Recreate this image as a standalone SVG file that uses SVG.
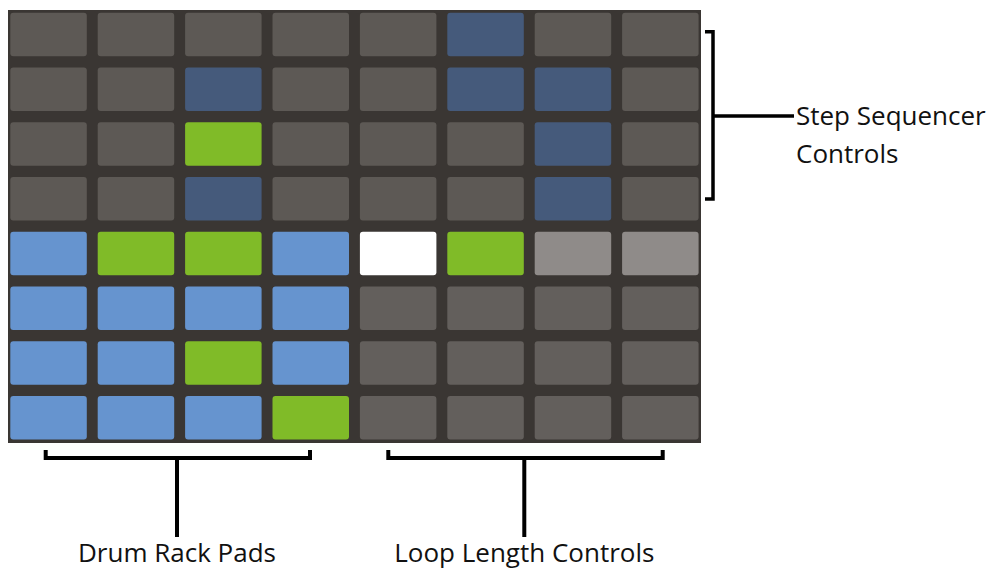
<svg xmlns="http://www.w3.org/2000/svg" width="992" height="569" viewBox="0 0 992 569">
<style>
.p{rx:3;ry:3}
.g{fill:#5d5955}
.h{fill:#635f5c}
.db{fill:#455a7b}
.gr{fill:#80bb28}
.lb{fill:#6694cf}
.w{fill:#ffffff}
.lg{fill:#8f8b89}
.br{fill:none;stroke:#000;stroke-width:4;stroke-linecap:butt;stroke-linejoin:miter}
.t{font-family:"Open Sans","Noto Sans",sans-serif;font-size:26px;fill:#111}
</style>
<rect width="992" height="569" fill="#ffffff"/>
<g id="grid">
<rect x="8" y="10" width="693" height="433" fill="#3a3633"/>
<g id="row0">
<rect class="p g" x="10.3" y="12.7" width="76.5" height="43.5"/>
<rect class="p g" x="97.7" y="12.7" width="76.5" height="43.5"/>
<rect class="p g" x="185.1" y="12.7" width="76.5" height="43.5"/>
<rect class="p g" x="272.5" y="12.7" width="76.5" height="43.5"/>
<rect class="p g" x="359.9" y="12.7" width="76.5" height="43.5"/>
<rect class="p db" x="447.3" y="12.7" width="76.5" height="43.5"/>
<rect class="p g" x="534.7" y="12.7" width="76.5" height="43.5"/>
<rect class="p g" x="622.1" y="12.7" width="76.5" height="43.5"/>
</g>
<g id="row1">
<rect class="p g" x="10.3" y="67.45" width="76.5" height="43.5"/>
<rect class="p g" x="97.7" y="67.45" width="76.5" height="43.5"/>
<rect class="p db" x="185.1" y="67.45" width="76.5" height="43.5"/>
<rect class="p g" x="272.5" y="67.45" width="76.5" height="43.5"/>
<rect class="p g" x="359.9" y="67.45" width="76.5" height="43.5"/>
<rect class="p db" x="447.3" y="67.45" width="76.5" height="43.5"/>
<rect class="p db" x="534.7" y="67.45" width="76.5" height="43.5"/>
<rect class="p g" x="622.1" y="67.45" width="76.5" height="43.5"/>
</g>
<g id="row2">
<rect class="p g" x="10.3" y="122.2" width="76.5" height="43.5"/>
<rect class="p g" x="97.7" y="122.2" width="76.5" height="43.5"/>
<rect class="p gr" x="185.1" y="122.2" width="76.5" height="43.5"/>
<rect class="p g" x="272.5" y="122.2" width="76.5" height="43.5"/>
<rect class="p g" x="359.9" y="122.2" width="76.5" height="43.5"/>
<rect class="p g" x="447.3" y="122.2" width="76.5" height="43.5"/>
<rect class="p db" x="534.7" y="122.2" width="76.5" height="43.5"/>
<rect class="p g" x="622.1" y="122.2" width="76.5" height="43.5"/>
</g>
<g id="row3">
<rect class="p g" x="10.3" y="176.95" width="76.5" height="43.5"/>
<rect class="p g" x="97.7" y="176.95" width="76.5" height="43.5"/>
<rect class="p db" x="185.1" y="176.95" width="76.5" height="43.5"/>
<rect class="p g" x="272.5" y="176.95" width="76.5" height="43.5"/>
<rect class="p g" x="359.9" y="176.95" width="76.5" height="43.5"/>
<rect class="p g" x="447.3" y="176.95" width="76.5" height="43.5"/>
<rect class="p db" x="534.7" y="176.95" width="76.5" height="43.5"/>
<rect class="p g" x="622.1" y="176.95" width="76.5" height="43.5"/>
</g>
<g id="row4">
<rect class="p lb" x="10.3" y="231.7" width="76.5" height="43.5"/>
<rect class="p gr" x="97.7" y="231.7" width="76.5" height="43.5"/>
<rect class="p gr" x="185.1" y="231.7" width="76.5" height="43.5"/>
<rect class="p lb" x="272.5" y="231.7" width="76.5" height="43.5"/>
<rect class="p w" x="359.9" y="231.7" width="76.5" height="43.5"/>
<rect class="p gr" x="447.3" y="231.7" width="76.5" height="43.5"/>
<rect class="p lg" x="534.7" y="231.7" width="76.5" height="43.5"/>
<rect class="p lg" x="622.1" y="231.7" width="76.5" height="43.5"/>
</g>
<g id="row5">
<rect class="p lb" x="10.3" y="286.45" width="76.5" height="43.5"/>
<rect class="p lb" x="97.7" y="286.45" width="76.5" height="43.5"/>
<rect class="p lb" x="185.1" y="286.45" width="76.5" height="43.5"/>
<rect class="p lb" x="272.5" y="286.45" width="76.5" height="43.5"/>
<rect class="p h" x="359.9" y="286.45" width="76.5" height="43.5"/>
<rect class="p h" x="447.3" y="286.45" width="76.5" height="43.5"/>
<rect class="p h" x="534.7" y="286.45" width="76.5" height="43.5"/>
<rect class="p h" x="622.1" y="286.45" width="76.5" height="43.5"/>
</g>
<g id="row6">
<rect class="p lb" x="10.3" y="341.2" width="76.5" height="43.5"/>
<rect class="p lb" x="97.7" y="341.2" width="76.5" height="43.5"/>
<rect class="p gr" x="185.1" y="341.2" width="76.5" height="43.5"/>
<rect class="p lb" x="272.5" y="341.2" width="76.5" height="43.5"/>
<rect class="p h" x="359.9" y="341.2" width="76.5" height="43.5"/>
<rect class="p h" x="447.3" y="341.2" width="76.5" height="43.5"/>
<rect class="p h" x="534.7" y="341.2" width="76.5" height="43.5"/>
<rect class="p h" x="622.1" y="341.2" width="76.5" height="43.5"/>
</g>
<g id="row7">
<rect class="p lb" x="10.3" y="395.95" width="76.5" height="43.5"/>
<rect class="p lb" x="97.7" y="395.95" width="76.5" height="43.5"/>
<rect class="p lb" x="185.1" y="395.95" width="76.5" height="43.5"/>
<rect class="p gr" x="272.5" y="395.95" width="76.5" height="43.5"/>
<rect class="p h" x="359.9" y="395.95" width="76.5" height="43.5"/>
<rect class="p h" x="447.3" y="395.95" width="76.5" height="43.5"/>
<rect class="p h" x="534.7" y="395.95" width="76.5" height="43.5"/>
<rect class="p h" x="622.1" y="395.95" width="76.5" height="43.5"/>
</g>
</g>
<g id="connectors">
<path class="br" style="stroke-width:3.5" d="M705 31.7 H713 V199 H705 M713 116 H794"/>
<path class="br" d="M45.7 450 V458 H310 V450 M177 458 V537"/>
<path class="br" d="M388.3 450 V458 H662.7 V450 M524.3 458 V537"/>
</g>
<g id="label-step">
<text class="t" x="796" y="125">Step Sequencer</text>
<text class="t" x="796" y="163">Controls</text>
</g>
<g id="label-drum">
<text class="t" x="177" y="562" text-anchor="middle">Drum Rack Pads</text>
</g>
<g id="label-loop">
<text class="t" x="524.3" y="562" text-anchor="middle">Loop Length Controls</text>
</g>
</svg>
